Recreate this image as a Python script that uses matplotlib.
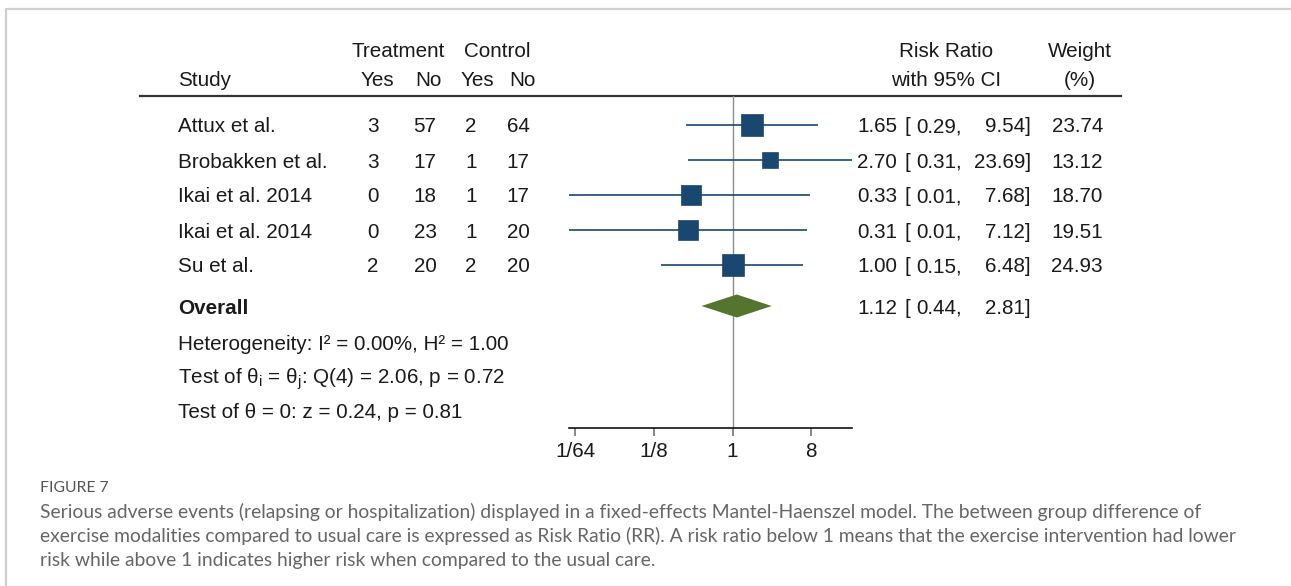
import numpy as np
import matplotlib.pyplot as plt
from matplotlib.lines import Line2D

plt.rcParams['font.family'] = ['Liberation Sans', 'DejaVu Sans']
plt.rcParams['mathtext.fontset'] = 'custom'
plt.rcParams['mathtext.rm'] = 'Liberation Sans'
plt.rcParams['mathtext.it'] = 'Liberation Sans:italic'

# datos del forest plot
studies = ['Attux et al.', 'Brobakken et al.', 'Ikai et al. 2014', 'Ikai et al. 2014', 'Su et al.']
treat_yes = [3, 3, 0, 0, 2]
treat_no = [57, 17, 18, 23, 20]
ctrl_yes = [2, 1, 1, 1, 2]
ctrl_no = [64, 17, 17, 20, 20]
rr = [1.65, 2.70, 0.33, 0.31, 1.00]
ci_low = [0.29, 0.31, 0.01, 0.01, 0.15]
ci_high = [9.54, 23.69, 7.68, 7.12, 6.48]
weight = [23.74, 13.12, 18.70, 19.51, 24.93]
overall_rr, overall_low, overall_high = 1.12, 0.44, 2.81
ticks = [1/64, 1/8, 1, 8]
tick_labels = ['1/64', '1/8', '1', '8']

stats = ['Heterogeneity: I\u00b2 = 0.00%, H\u00b2 = 1.00',
         r'Test of θ$_\mathregular{i}$ = θ$_\mathregular{j}$: Q(4) = 2.06, p = 0.72',
         'Test of θ = 0: z = 0.24, p = 0.81']

caption = ['Serious adverse events (relapsing or hospitalization) displayed in a fixed-effects Mantel-Haenszel model. The between group difference of',
           'exercise modalities compared to usual care is expressed as Risk Ratio (RR). A risk ratio below 1 means that the exercise intervention had lower',
           'risk while above 1 indicates higher risk when compared to the usual care.']

W, H = 1291, 586
navy = '#1a476f'
green = '#55752f'
txt = '#1a1a1a'
fs = 14.9

fig = plt.figure(figsize=(W / 100, H / 100), dpi=100)

# eje de texto en pixeles
tax = fig.add_axes([0, 0, 1, 1])
tax.set_xlim(0, W)
tax.set_ylim(H, 0)
tax.axis('off')

# marco gris
tax.add_line(Line2D([6, 6, W], [H, 9, 9], color='#cfcfcf', lw=1.6))

# encabezados
tax.text(398, 57, 'Treatment', ha='center', va='baseline', fontsize=fs, color=txt)
tax.text(497, 57, 'Control', ha='center', va='baseline', fontsize=fs, color=txt)
tax.text(178, 86, 'Study', ha='left', va='baseline', fontsize=fs, color=txt)
for xh, lab in zip([377, 428, 477, 522], ['Yes', 'No', 'Yes', 'No']):
    tax.text(xh, 86, lab, ha='center', va='baseline', fontsize=fs, color=txt)
tax.text(946, 57, 'Risk Ratio', ha='center', va='baseline', fontsize=fs, color=txt)
tax.text(946, 86, 'with 95% CI', ha='center', va='baseline', fontsize=fs, color=txt)
tax.text(1080, 57, 'Weight', ha='center', va='baseline', fontsize=fs, color=txt)
tax.text(1080, 86, '(%)', ha='center', va='baseline', fontsize=fs, color=txt)
tax.add_line(Line2D([140, 1121], [96, 96], color='#333333', lw=1.6))

row_top, row_step = 125, 35
rows = [row_top + row_step * i for i in range(len(studies))]
base = 7.5


def ci_text(y, est, lo, hi):
    tax.text(897, y + base, '%.2f' % est, ha='right', va='baseline', fontsize=fs, color=txt)
    tax.text(904, y + base, '[', ha='left', va='baseline', fontsize=fs, color=txt)
    tax.text(962, y + base, '%.2f,' % lo, ha='right', va='baseline', fontsize=fs, color=txt)
    tax.text(1031, y + base, '%.2f]' % hi, ha='right', va='baseline', fontsize=fs, color=txt)


for i, y in enumerate(rows):
    tax.text(178, y + base, studies[i], ha='left', va='baseline', fontsize=fs, color=txt)
    for xc, v in zip([373, 425, 471, 518], [treat_yes[i], treat_no[i], ctrl_yes[i], ctrl_no[i]]):
        tax.text(xc, y + base, str(v), ha='center', va='baseline', fontsize=fs, color=txt)
    ci_text(y, rr[i], ci_low[i], ci_high[i])
    tax.text(1103, y + base, '%.2f' % weight[i], ha='right', va='baseline', fontsize=fs, color=txt)

oy = 306
tax.text(178, oy + base, 'Overall', ha='left', va='baseline', fontsize=fs, color=txt, fontweight='bold')
ci_text(oy, overall_rr, overall_low, overall_high)

for k, s in enumerate(stats):
    tax.text(178, 342 + 34.5 * k + base, s, ha='left', va='baseline', fontsize=fs, color=txt)

# leyenda de la figura
tax.text(40, 492, 'FIGURE 7', ha='left', va='baseline', fontsize=11.3, color='#555555', family='Lato')
for k, line in enumerate(caption):
    tax.text(40, 518 + 24 * k, line, ha='left', va='baseline', fontsize=13.9, color='#666666', family='Lato')

# eje del forest plot
x0, x1 = 569.3, 851.7
y_top, y_bot = 96, 428
ax = fig.add_axes([x0 / W, (H - y_bot) / H, (x1 - x0) / W, (y_bot - y_top) / H])
ax.patch.set_alpha(0)
ax.set_xscale('log', base=2)
ax.set_xlim(2 ** -6.22, 2 ** 4.54)
ax.set_ylim(y_bot, y_top)
for sp in ['left', 'right', 'top']:
    ax.spines[sp].set_visible(False)
ax.spines['bottom'].set_linewidth(1.2)
ax.spines['bottom'].set_color('#111111')
ax.set_yticks([])
ax.set_xticks(ticks)
ax.set_xticklabels(tick_labels)
ax.minorticks_off()
ax.tick_params(axis='x', length=6, width=1.4, color='#888888', pad=4, labelsize=fs, labelcolor=txt)

ax.axvline(1, color='#8c8c8c', lw=1.0, zorder=1)

for i, y in enumerate(rows):
    ax.plot([ci_low[i], ci_high[i]], [y, y], color=navy, lw=1.2, zorder=2, solid_capstyle='butt')
    ax.plot(rr[i], y, marker='s', markersize=3.25 * np.sqrt(weight[i]),
            color=navy, markeredgecolor=navy, markeredgewidth=0.5, zorder=3)

d_half = 11.5
ax.fill([overall_low, overall_rr, overall_high, overall_rr],
        [oy, oy - d_half, oy, oy + d_half], color=green, zorder=3, lw=0)

fig.savefig('out.png', dpi=100)
